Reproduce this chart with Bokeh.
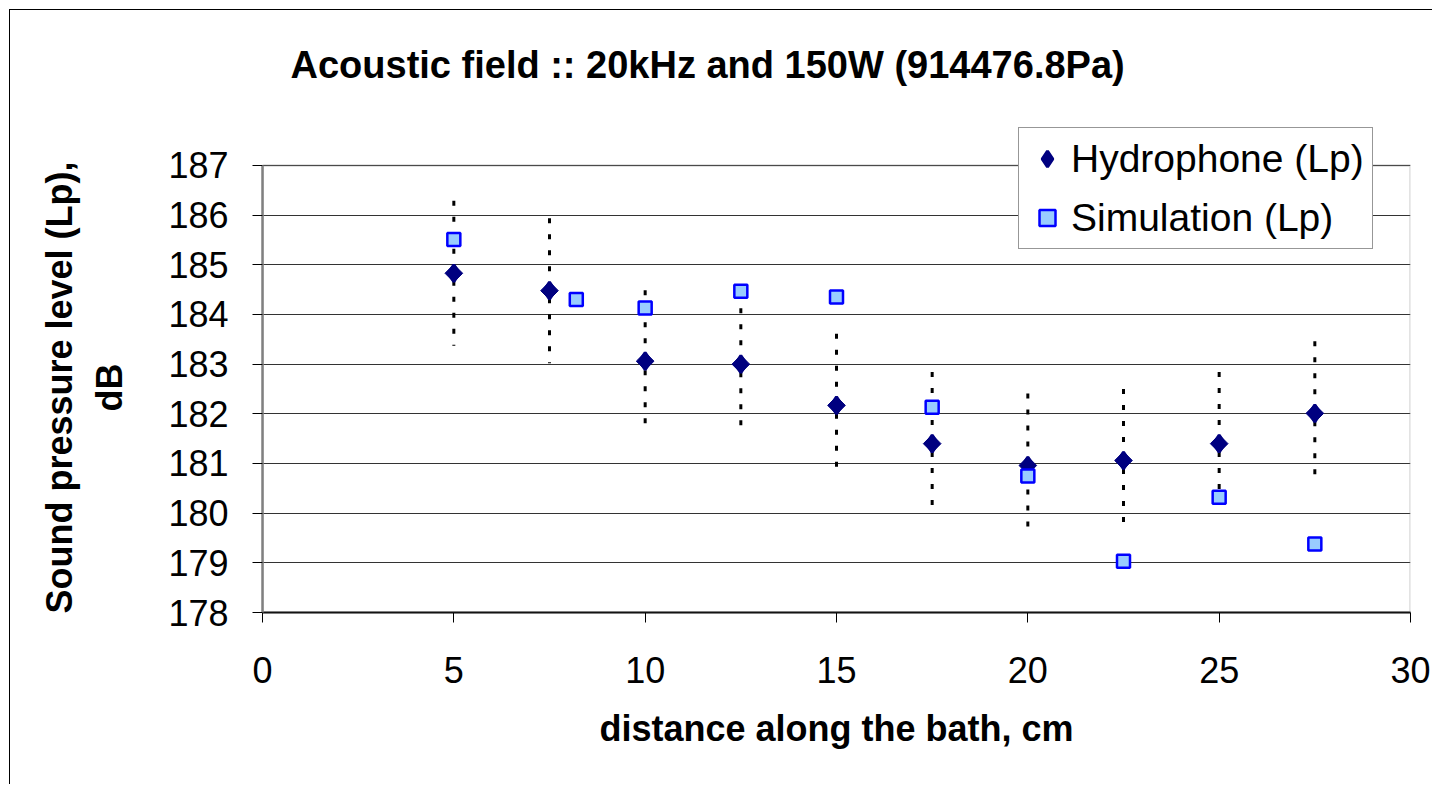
from bokeh.plotting import figure
from bokeh.models import Range1d, Legend, LegendItem, ColumnDataSource, FixedTicker, BoxAnnotation
from bokeh.embed import file_html
from bokeh.resources import INLINE
import math

# ---- data ----
x_hydro = [5, 7.5, 10, 12.5, 15, 17.5, 20, 22.5, 25, 27.5]
lp_hydro = [184.83, 184.48, 183.06, 183.0, 182.17, 181.4, 180.96, 181.06, 181.4, 182.01]
err_hydro = [1.46, 1.46, 1.43, 1.45, 1.44, 1.44, 1.45, 1.44, 1.44, 1.45]
x_sim = [5, 8.2, 10, 12.5, 15, 17.5, 20, 22.5, 25, 27.5]
lp_sim = [185.51, 184.3, 184.13, 184.47, 184.35, 182.13, 180.75, 179.03, 180.32, 179.38]
x_ticks = [0, 5, 10, 15, 20, 25, 30]
y_ticks = [178, 179, 180, 181, 182, 183, 184, 185, 186, 187]

title_text = "Acoustic field :: 20kHz and 150W (914476.8Pa)"
x_label = "distance along the bath, cm"
y_label_lines = ["Sound pressure level (Lp),", "dB"]
names = ["Hydrophone (Lp)", "Simulation (Lp)"]

FONT = "Liberation Sans"
X_MIN, X_MAX = 0, 30
Y_MIN, Y_MAX = 178, 187
Y_VIEW_TOP = 188.067  # frame extends above the axis so the legend can overlap
PAD = "\u00a0" * 5    # keeps the rotated label centred on the 178-187 span

p = figure(width=1423, height=775, output_backend="svg", toolbar_location=None,
           x_range=Range1d(X_MIN, X_MAX), y_range=Range1d(Y_MIN, Y_VIEW_TOP),
           min_border_left=252, min_border_right=23, min_border_top=102, min_border_bottom=173,
           background_fill_color="white", border_fill_color="white")
p.margin = (9, 0, 0, 9)
p.styles = {"border-left": "1px solid black", "border-top": "1px solid black"}

p.title.text = title_text
p.title.text_font = FONT
p.title.text_font_size = "38px"
p.title.text_font_style = "bold"
p.title.text_color = "black"
p.title.align = "left"
p.title.offset = 28
p.title.standoff = 54

p.outline_line_color = None

p.xgrid.grid_line_color = None
p.ygrid.grid_line_color = "#000000"
p.ygrid.grid_line_width = 1
p.ygrid.grid_line_alpha = 0.8

for ax in (p.xaxis[0], p.yaxis[0]):
    ax.major_label_text_font = FONT
    ax.major_label_text_font_size = "36px"
    ax.major_label_text_color = "black"
    ax.axis_label_text_font = FONT
    ax.axis_label_text_font_size = "36px"
    ax.axis_label_text_font_style = "bold"
    ax.axis_label_text_color = "black"
    ax.minor_tick_line_color = None
    ax.major_tick_in = 0
    ax.major_tick_out = 10
    ax.major_tick_line_color = "black"

p.xaxis.ticker = FixedTicker(ticks=x_ticks)
p.yaxis.ticker = FixedTicker(ticks=y_ticks)
p.yaxis.bounds = (Y_MIN, Y_MAX)
p.xaxis.axis_label = x_label
p.yaxis.axis_label = "\n".join(line + PAD for line in y_label_lines)
p.xaxis.axis_line_color = "black"
p.xaxis.axis_line_width = 2
p.yaxis.axis_line_color = "#808080"
p.yaxis.axis_line_width = 2.5
p.xaxis.major_label_standoff = 34
p.yaxis.major_label_standoff = 24
p.xaxis.axis_label_standoff = 22
p.yaxis.axis_label_standoff = 35
p.yaxis.axis_label_text_line_height = 1.23

# plot-area border (top/right)
p.add_layout(BoxAnnotation(left=X_MIN, right=X_MAX, bottom=Y_MIN, top=Y_MAX,
                           fill_alpha=0, line_color="#808080", line_width=2.5))

# error bars
lower = [v - e for v, e in zip(lp_hydro, err_hydro)]
upper = [v + e for v, e in zip(lp_hydro, err_hydro)]
src_h = ColumnDataSource(dict(x=x_hydro, y=lp_hydro, lo=lower, hi=upper))
p.segment(x0="x", y0="hi", x1="x", y1="lo", source=src_h, line_color="black",
          line_width=3, line_dash="5 11")

r_hd = p.scatter(x="x", y="y", source=src_h, marker="diamond", size=17,
                 fill_color="#000080", line_color="#000080", line_width=3)
p.scatter(x="x", y="y", source=src_h, marker="square", size=12.5, angle=math.pi / 4,
          fill_color="#000080", line_color="#000080", line_width=1)
src_s = ColumnDataSource(dict(x=x_sim, y=lp_sim))
r_s = p.scatter(x="x", y="y", source=src_s, marker="square", size=13,
                fill_color="#99CCFF", line_color="#0000FF", line_width=2.5)

legend = Legend(items=[LegendItem(label=names[0], renderers=[r_hd]),
                       LegendItem(label=names[1], renderers=[r_s])],
                location=(756, 363))
legend.label_text_font = FONT
legend.label_text_font_size = "39px"
legend.label_text_color = "black"
legend.border_line_color = "#303030"
legend.border_line_width = 1.5
legend.background_fill_color = "white"
legend.background_fill_alpha = 1
legend.padding = 8
legend.spacing = 14
legend.label_height = 45
legend.glyph_width = 40
legend.glyph_height = 45
legend.label_standoff = 4
legend.margin = 0
p.add_layout(legend, "center")

open("out.html", "w").write(file_html(p, INLINE))
